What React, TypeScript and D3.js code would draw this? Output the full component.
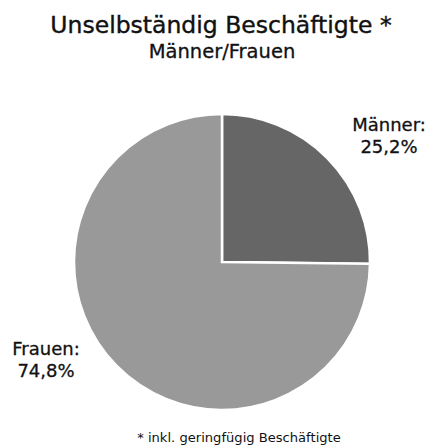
import React, { useEffect, useRef } from "react";
import * as d3 from "d3";

const categories = ["Männer", "Frauen"];
const shares = [25.2, 74.8];
const sliceColors = ["#666666", "#999999"];

const title = "Unselbständig Beschäftigte *";
const subtitle = "Männer/Frauen";
const footnote = "* inkl. geringfügig Beschäftigte";

const PieChart: React.FC = () => {
  const ref = useRef<SVGSVGElement>(null);

  useEffect(() => {
    if (!ref.current) return;
    const svg = d3.select(ref.current);
    svg.selectAll("*").remove();

    const width = 426;
    const height = 447;
    svg.attr("width", width).attr("height", height);

    const font = "'DejaVu Sans', Verdana, sans-serif";
    const cx = 222;
    const cy = 262;
    const radius = 148;

    svg.append("text")
      .attr("x", 221).attr("y", 33)
      .attr("text-anchor", "middle")
      .attr("font-family", font).attr("font-size", 23.5)
      .attr("fill", "#111")
      .attr("stroke", "#111").attr("stroke-width", 0.4)
      .text(title);

    svg.append("text")
      .attr("x", 222).attr("y", 58)
      .attr("text-anchor", "middle")
      .attr("font-family", font).attr("font-size", 19.5)
      .attr("fill", "#111")
      .attr("stroke", "#111").attr("stroke-width", 0.3)
      .text(subtitle);

    const data = categories.map((c, i) => ({ name: c, value: shares[i], color: sliceColors[i] }));
    const pie = d3.pie<typeof data[0]>().value((d) => d.value).sort(null);
    const arc = d3.arc<d3.PieArcDatum<typeof data[0]>>().innerRadius(0).outerRadius(radius);

    const g = svg.append("g").attr("transform", `translate(${cx},${cy})`);
    g.selectAll("path")
      .data(pie(data))
      .enter().append("path")
      .attr("d", arc)
      .attr("fill", (d) => d.data.color)
      .attr("stroke", "#fff")
      .attr("stroke-width", 2.5);

    const labelPos = [
      { x: 389, y: 131 },
      { x: 46, y: 355 },
    ];
    data.forEach((d, i) => {
      const t = svg.append("text")
        .attr("text-anchor", "middle")
        .attr("font-family", font).attr("font-size", 18)
        .attr("fill", "#111")
        .attr("stroke", "#111").attr("stroke-width", 0.3);
      t.append("tspan").attr("x", labelPos[i].x).attr("y", labelPos[i].y).text(`${d.name}:`);
      t.append("tspan").attr("x", labelPos[i].x).attr("y", labelPos[i].y + 22)
        .text(`${d3.format(".1f")(d.value).replace(".", ",")}%`);
    });

    svg.append("text")
      .attr("x", 239).attr("y", 442)
      .attr("text-anchor", "middle")
      .attr("font-family", font).attr("font-size", 13.1)
      .attr("fill", "#111")
      .text(footnote);
  }, []);

  return <svg ref={ref} style={{ position: "absolute", left: 0, top: 0 }}></svg>;
};

export default function App() {
  return <PieChart />;
}
